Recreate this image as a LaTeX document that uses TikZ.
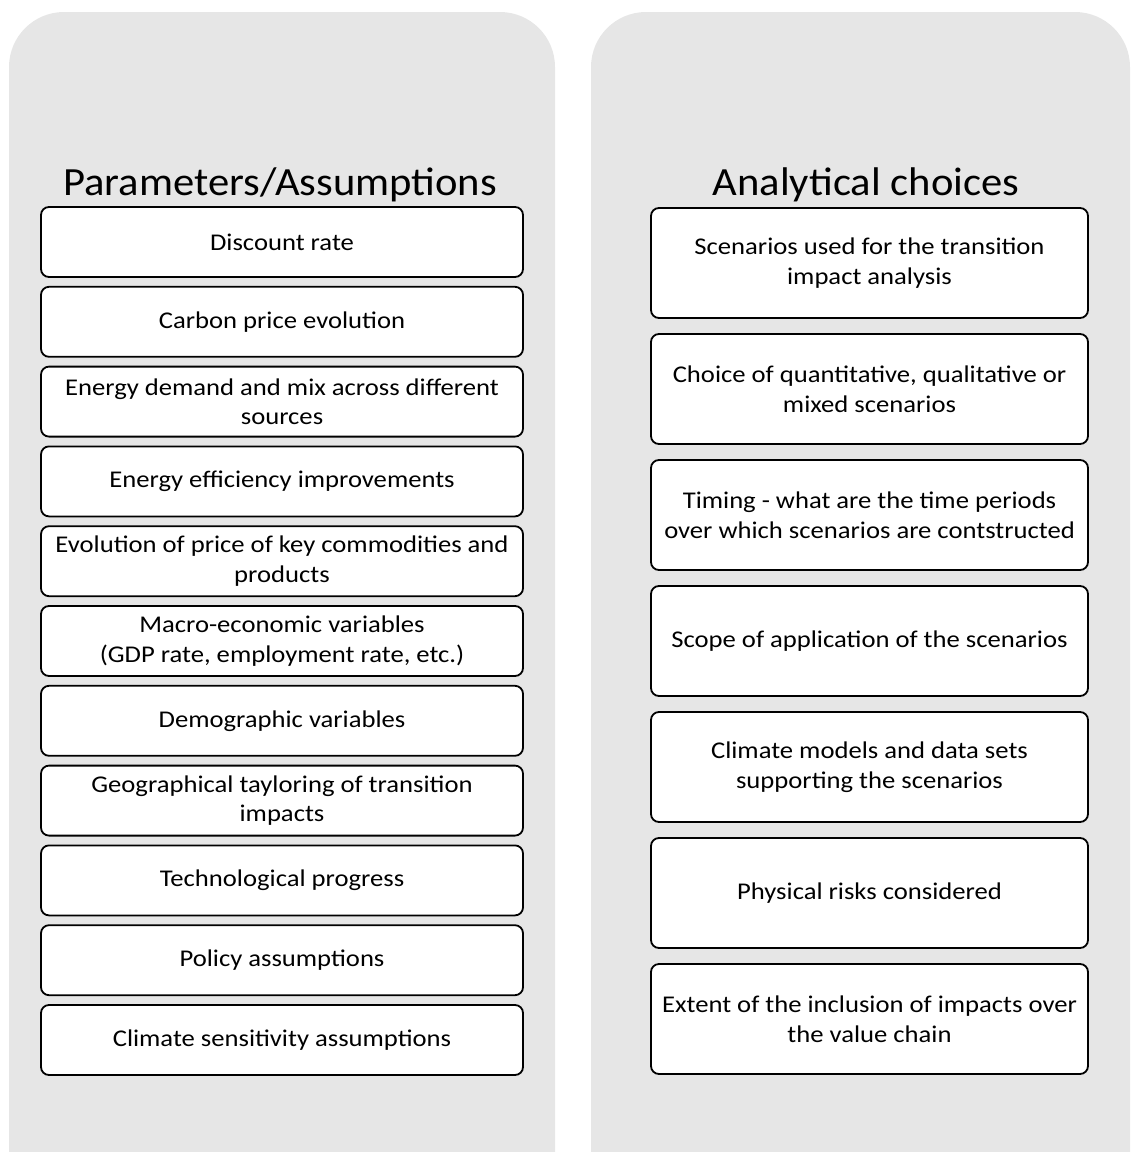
\documentclass[tikz,border=0pt]{standalone}
\usepackage{fontspec}
\setmainfont{Carlito}
\newfontfamily\boxfont[FakeStretch=1.11]{Carlito}
\newfontfamily\titlefont[FakeStretch=1.065]{Carlito}
\definecolor{panelgray}{HTML}{E6E6E6}
\begin{document}
\begin{tikzpicture}[x=1pt,y=-1pt,
  panel/.style={fill=panelgray, draw=none, rounded corners=55pt},
  title/.style={anchor=base, inner sep=0pt, font=\titlefont\fontsize{40}{48}\selectfont},
  lbox/.style={draw=black, fill=white, line width=1.8pt, rounded corners=8pt,
    minimum width=482pt, minimum height=70pt, align=center, inner sep=2pt,
    font=\boxfont\fontsize{24}{29.5}\selectfont},
  rbox/.style={draw=black, fill=white, line width=1.8pt, rounded corners=8pt,
    minimum width=437pt, minimum height=110pt, align=center, inner sep=2pt,
    font=\boxfont\fontsize{24}{30}\selectfont}]
\useasboundingbox (0,0) rectangle (1131,1152);
\clip (0,0) rectangle (1131,1152);
\fill[panel] (9,12) rectangle (555,1230);
\fill[panel] (591,12) rectangle (1130,1230);
\node[title] (tl) at (280,195) {Parameters/Assumptions};
\node[title] (tr) at (866,195) {Analytical choices};
% left column
\node[lbox] (l1) at (282,242) {Discount rate};
\node[lbox] (l2) at (282,321.8) {Carbon price evolution};
\node[lbox] (l3) at (282,401.6) {Energy demand and mix across different\\sources};
\node[lbox] (l4) at (282,481.4) {Energy efficiency improvements};
\node[lbox] (l5) at (282,561.2) {Evolution of price of key commodities and\\products};
\node[lbox] (l6) at (282,641) {Macro-economic variables\\(GDP rate, employment rate, etc.)};
\node[lbox] (l7) at (282,720.8) {Demographic variables};
\node[lbox] (l8) at (282,800.6) {Geographical tayloring of transition\\impacts};
\node[lbox] (l9) at (282,880.4) {Technological progress};
\node[lbox] (l10) at (282,960.2) {Policy assumptions};
\node[lbox] (l11) at (282,1040) {Climate sensitivity assumptions};
% right column
\node[rbox] (r1) at (869.5,263) {Scenarios used for the transition\\impact analysis};
\node[rbox] (r2) at (869.5,389) {Choice of quantitative, qualitative or\\mixed scenarios};
\node[rbox] (r3) at (869.5,515) {Timing - what are the time periods\\over which scenarios are contstructed};
\node[rbox] (r4) at (869.5,641) {Scope of application of the scenarios};
\node[rbox] (r5) at (869.5,767) {Climate models and data sets\\supporting the scenarios};
\node[rbox] (r6) at (869.5,893) {Physical risks considered};
\node[rbox] (r7) at (869.5,1019) {Extent of the inclusion of impacts over\\the value chain};
\end{tikzpicture}
\end{document}
